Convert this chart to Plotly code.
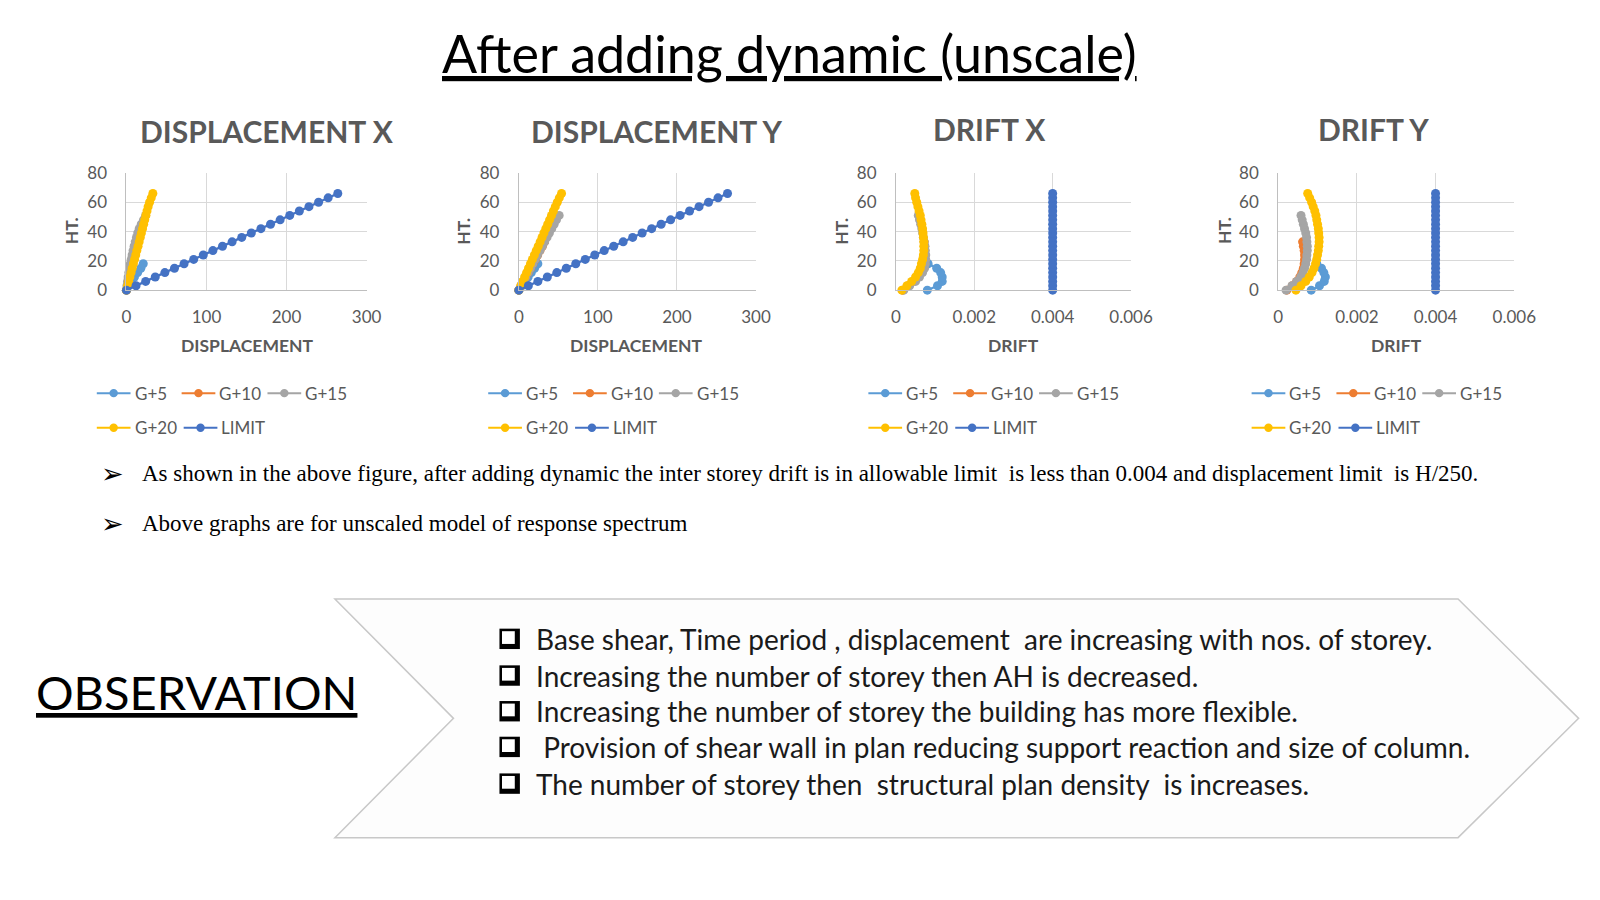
import plotly.graph_objects as go

W, H = 1600, 900
# reference-picture pixel -> figure paper coordinate
SX, BX, SY, BY = 0.962, 13.0, 0.958, 17.0
def fx(x): return (x - BX) / SX
def fy(y): return (y - BY) / SY
def px(x): return fx(x) / W
def py(y): return 1 - fy(y) / H

# ---------------- data ----------------
HT_G5 = [0, 3, 6, 9, 12, 15, 18]
HT_G10 = [0, 3, 6, 9, 12, 15, 18, 21, 24, 27, 30, 33]
HT_G15 = [0, 3, 6, 9, 12, 15, 18, 21, 24, 27, 30, 33, 36, 39, 42, 45, 48, 51]
HT_G20 = [0, 3, 6, 9, 12, 15, 18, 21, 24, 27, 30, 33, 36, 39, 42, 45, 48, 51, 54, 57, 60, 63, 66]
HT_LIMIT = HT_G20

DISPX_G5 = [0, 3, 6, 10, 14, 18, 21]
DISPX_G10 = [0, 1.3, 2.7, 4, 5.3, 6.6, 7.8, 9, 10.2, 11.3, 12.4, 13.4]
DISPX_G15 = [0, 0.6, 1.3, 2.1, 3, 3.9, 4.9, 6, 7.1, 8.3, 9.6, 11, 12.5, 14.1, 15.9, 18.5, 21.3, 24]
DISPX_G20 = [0, 1.4, 2.9, 4.3, 5.8, 7.2, 8.7, 10.1, 11.6, 13, 14.5, 15.9, 17.3, 18.7, 20.1, 21.5, 22.9, 24.3, 25.7, 27.1, 28.9, 31, 33]
DISPX_LIMIT = [0, 12, 24, 36, 48, 60, 72, 84, 96, 108, 120, 132, 144, 156, 168, 180, 192, 204, 216, 228, 240, 252, 264]

DISPY_G5 = [0, 3.8, 7.8, 11.8, 15.8, 19.9, 24]
DISPY_G10 = [0, 2.9, 5.8, 8.8, 11.8, 14.8, 17.8, 20.8, 23.8, 26.8, 29.8, 32.6]
DISPY_G15 = [0, 2.8, 5.7, 8.6, 11.6, 14.6, 17.6, 20.6, 23.6, 26.6, 29.6, 32.6, 35.6, 38.6, 41.6, 44.6, 47.6, 51]
DISPY_G20 = [0, 2.4, 4.9, 7.3, 9.8, 12.2, 14.7, 17.1, 19.6, 22, 24.5, 26.9, 29.3, 31.7, 34.1, 36.5, 38.9, 41.3, 43.7, 46.1, 48.6, 51.2, 54]
DISPY_LIMIT = [0, 12, 24, 36, 48, 60, 72, 84, 96, 108, 120, 132, 144, 156, 168, 180, 192, 204, 216, 228, 240, 252, 264]

DRIFTX_G5 = [0.0008, 0.00106, 0.00118, 0.00118, 0.00114, 0.00104, 0.00082]
DRIFTX_G10 = [0.00017, 0.00031, 0.00044, 0.00054, 0.00061, 0.00066, 0.00069, 0.00071, 0.00072, 0.00073, 0.00073, 0.00072]
DRIFTX_G15 = [0.0002, 0.00035, 0.0005, 0.0006, 0.00068, 0.00073, 0.00075, 0.00076, 0.00076, 0.00075, 0.00074, 0.00072,
              0.0007, 0.00068, 0.00066, 0.00063, 0.0006, 0.00057]
DRIFTX_G20 = [0.00015, 0.00028, 0.0004, 0.0005, 0.00057, 0.00062, 0.00065, 0.00068, 0.0007, 0.00071, 0.00071, 0.00071,
              0.0007, 0.00069, 0.00068, 0.00066, 0.00064, 0.00062, 0.00059, 0.00056, 0.00053, 0.0005, 0.00048]
DRIFTX_LIMIT = [0.004] * 23

DRIFTY_G5 = [0.00084, 0.00105, 0.00117, 0.0012, 0.00116, 0.0011, 0.00098]
DRIFTY_G10 = [0.00022, 0.00036, 0.00047, 0.00055, 0.0006, 0.00064, 0.00066, 0.00067, 0.00067, 0.00066, 0.00064, 0.00062]
DRIFTY_G15 = [0.0002, 0.00035, 0.00047, 0.00057, 0.00063, 0.00067, 0.0007, 0.00072, 0.00073, 0.00074, 0.00074, 0.00073,
              0.00072, 0.0007, 0.00067, 0.00064, 0.00061, 0.00058]
DRIFTY_G20 = [0.00045, 0.00058, 0.0007, 0.00079, 0.00086, 0.00091, 0.00095, 0.00098, 0.001, 0.00102, 0.00103, 0.00104,
              0.00104, 0.00103, 0.00102, 0.001, 0.00098, 0.00096, 0.00093, 0.00089, 0.00085, 0.0008, 0.00075]
DRIFTY_LIMIT = [0.004] * 23

SERIES = ["G+5", "G+10", "G+15", "G+20", "LIMIT"]
COLORS = ["#5B9BD5", "#ED7D31", "#A5A5A5", "#FFC000", "#4472C4"]
HEIGHTS = [HT_G5, HT_G10, HT_G15, HT_G20, HT_LIMIT]

CHART_TITLES = ["DISPLACEMENT X", "DISPLACEMENT Y", "DRIFT X", "DRIFT Y"]
X_TITLES = ["DISPLACEMENT", "DISPLACEMENT", "DRIFT", "DRIFT"]
Y_TITLE = "HT."
CHART_DATA = [
    [DISPX_G5, DISPX_G10, DISPX_G15, DISPX_G20, DISPX_LIMIT],
    [DISPY_G5, DISPY_G10, DISPY_G15, DISPY_G20, DISPY_LIMIT],
    [DRIFTX_G5, DRIFTX_G10, DRIFTX_G15, DRIFTX_G20, DRIFTX_LIMIT],
    [DRIFTY_G5, DRIFTY_G10, DRIFTY_G15, DRIFTY_G20, DRIFTY_LIMIT],
]
DISP_TICKS = [0, 100, 200, 300]
DISP_TICKTEXT = ["0", "100", "200", "300"]
DRIFT_TICKS = [0, 0.002, 0.004, 0.006]
DRIFT_TICKTEXT = ["0", "0.002", "0.004", "0.006"]
HT_TICKS = [0, 20, 40, 60, 80]

TITLE = "After adding dynamic (unscale)"
NOTES = [
    "As shown in the above figure, after adding dynamic the inter storey drift is in allowable limit  is less than 0.004 and displacement limit  is H/250.",
    "Above graphs are for unscaled model of response spectrum",
]
OBS_TITLE = "OBSERVATION"
OBS_ITEMS = [
    "Base shear, Time period , displacement  are increasing with nos. of storey.",
    "Increasing the number of storey then AH is decreased.",
    "Increasing the number of storey the building has more flexible.",
    " Provision of shear wall in plan reducing support reaction and size of column.",
    "The number of storey then  structural plan density  is increases.",
]

# ---------------- layout geometry (reference pixels) ----------------
PLOT_X = [(124, 359), (508, 740), (877, 1107), (1251, 1482)]
PLOT_Y = (168, 283)
TITLE_POS = [(262, 127), (643, 127), (969, 125), (1344, 125)]
XT_POS = [(242, 337), (623, 337), (992, 337), (1367, 337)]
YT_X = [70, 453, 823, 1198]
LEG_BASE = [95, 478, 850, 1225]

GREY = "#595959"
CAL = "Lato"

fig = go.Figure()
layout = dict(
    width=W, height=H, margin=dict(l=0, r=0, t=0, b=0),
    paper_bgcolor="white", plot_bgcolor="white", showlegend=False,
)
annotations = []
shapes = []

def note(text, x, y, size, color, family=CAL, xanchor="center", angle=0):
    annotations.append(dict(text=text, x=px(x), y=py(y), xref="paper", yref="paper", showarrow=False,
                            xanchor=xanchor, yanchor="middle", textangle=angle,
                            font=dict(family=family, size=size, color=color)))

def rect(x0, y0, x1, y1, fill):
    shapes.append(dict(type="rect", xref="paper", yref="paper", x0=px(x0), x1=px(x1), y0=py(y1), y1=py(y0),
                       fillcolor=fill, line=dict(width=0), layer="above"))

for i in range(4):
    xa = "x" if i == 0 else f"x{i+1}"
    ya = "y" if i == 0 else f"y{i+1}"
    for s in range(5):
        fig.add_trace(go.Scatter(
            x=CHART_DATA[i][s], y=HEIGHTS[s], mode="lines+markers", name=SERIES[s],
            line=dict(color=COLORS[s], width=2.3),
            marker=dict(color=COLORS[s], size=9),
            xaxis=xa, yaxis=ya, cliponaxis=False,
        ))
    drift = i >= 2
    x0, x1 = PLOT_X[i]
    layout["xaxis" if i == 0 else f"xaxis{i+1}"] = dict(
        domain=[px(x0), px(x1)], anchor=ya,
        range=[0, 0.006] if drift else [0, 300],
        tickvals=DRIFT_TICKS if drift else DISP_TICKS,
        ticktext=DRIFT_TICKTEXT if drift else DISP_TICKTEXT,
        showgrid=True, gridcolor="#d9d9d9", gridwidth=1, zeroline=False,
        showline=True, linecolor="#bfbfbf", linewidth=1, ticks="",
        tickfont=dict(family=CAL, size=17, color=GREY), ticklabelstandoff=11,
    )
    layout["yaxis" if i == 0 else f"yaxis{i+1}"] = dict(
        domain=[py(PLOT_Y[1]), py(PLOT_Y[0])], anchor=xa,
        range=[0, 80], tickvals=HT_TICKS,
        showgrid=True, gridcolor="#d9d9d9", gridwidth=1, zeroline=False,
        showline=True, linecolor="#bfbfbf", linewidth=1, ticks="",
        tickfont=dict(family=CAL, size=17, color=GREY), ticklabelstandoff=15,
    )
    tx, ty = TITLE_POS[i]
    note(f"<b>{CHART_TITLES[i]}</b>", tx, ty, 30, GREY)
    ax, ay = XT_POS[i]
    note(f"<b>{X_TITLES[i]}</b>", ax, ay, 17.5, GREY)
    note(f"<b>{Y_TITLE}</b>", YT_X[i], 225, 17.5, GREY, angle=-90)
    # legend
    base = LEG_BASE[i]
    entries = [(0, 0, 384), (1, 83, 384), (2, 167, 384), (3, 0, 418), (4, 85, 418)]
    for s, dx, yy in entries:
        lx0 = base + dx
        lx1 = lx0 + 33
        cx = (lx0 + lx1) / 2
        shapes.append(dict(type="line", xref="paper", yref="paper", x0=px(lx0), x1=px(lx1), y0=py(yy), y1=py(yy),
                           line=dict(color=COLORS[s], width=2)))
        r = 4.3
        cxf, cyf = fx(cx), fy(yy)
        shapes.append(dict(type="circle", xref="paper", yref="paper", x0=(cxf - r) / W, x1=(cxf + r) / W,
                           y0=1 - (cyf + r) / H, y1=1 - (cyf - r) / H, fillcolor=COLORS[s], line=dict(width=0)))
        note(SERIES[s], lx1 + 2, yy, 17, GREY, xanchor="left")

# main title
note(f"<u>{TITLE}</u>", 773, 50, 52, "black")

# notes
for txt, yy in zip(NOTES, [463, 512]):
    note("➢", 110, yy, 27, "black", family="DejaVu Sans")
    note(txt, 137, yy, 23, "black", family="Liberation Serif", xanchor="left")

# chevron
pts = [(328, 586), (1427, 586), (1545, 703), (1427, 820), (328, 820), (444, 703)]
path = "M " + " L ".join(f"{px(a):.5f},{py(b):.5f}" for a, b in pts) + " Z"
shapes.append(dict(type="path", xref="paper", yref="paper", path=path, fillcolor="#fdfdfd",
                   line=dict(color="#c8c8c8", width=1.5), layer="below"))

note(f"<u>{OBS_TITLE}</u>", 34, 677, 47, "black", xanchor="left")

for item, yy in zip(OBS_ITEMS, [625, 661, 696, 731, 767]):
    # shadowed check box glyph
    rect(489, yy - 10, 509, yy + 10, "black")
    rect(491.5, yy - 7.5, 504, yy + 5, "white")
    note(item, 523, yy, 28, "#1a1a1a", xanchor="left")

layout["annotations"] = annotations
layout["shapes"] = shapes
fig.update_layout(**layout)
fig.write_html("out.html")
